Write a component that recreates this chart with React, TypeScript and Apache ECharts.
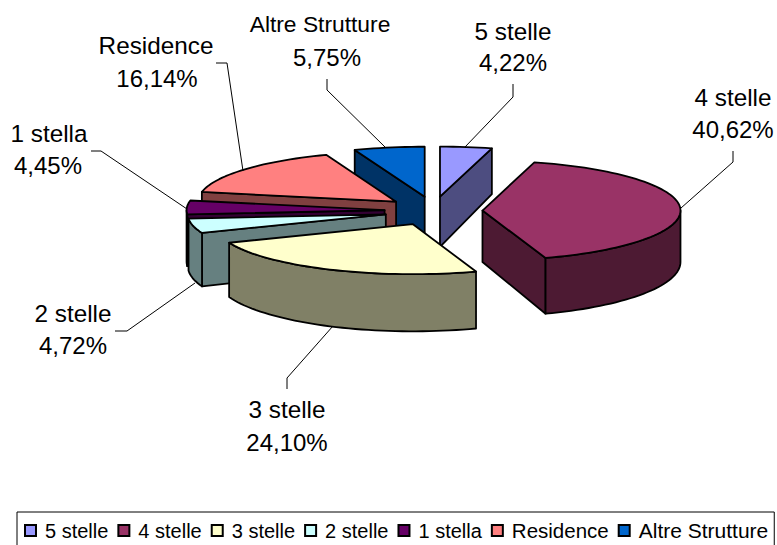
import React, { useEffect, useRef } from "react";
import * as echarts from "echarts";

const categories = ["5 stelle", "4 stelle", "3 stelle", "2 stelle", "1 stella", "Residence", "Altre Strutture"];
const shares = [4.22, 40.62, 24.1, 4.72, 4.45, 16.14, 5.75];
const topColors = ["#9999FF", "#993366", "#FFFFCC", "#CCFFFF", "#660066", "#FF8080", "#0066CC"];
const sideColors = ["#4D4D80", "#4D1A33", "#808066", "#668080", "#330033", "#804040", "#003366"];
// painter's order: back slices first
const paintOrder = [0, 6, 5, 4, 3, 1, 2];

// chart layout, not data
const labelLayout = [
  { nameX: 513, pctX: 513, nameY: 31, pctY: 62, nameSize: 24.3, leader: [[513, 84], [513, 97], [465, 147]] },
  { nameX: 733, pctX: 733, nameY: 97, pctY: 129, nameSize: 24.3, leader: [[733, 151], [733, 162], [681, 208]] },
  { nameX: 287, pctX: 287, nameY: 409, pctY: 442, nameSize: 24.3, leader: [[287, 389], [287, 378], [333, 326]] },
  { nameX: 73, pctX: 73, nameY: 313, pctY: 345, nameSize: 24.3, leader: [[115, 331], [127, 331], [195, 283]] },
  { nameX: 49, pctX: 48, nameY: 133, pctY: 165, nameSize: 24.3, leader: [[91, 151], [101, 151], [187, 209]] },
  { nameX: 156, pctX: 157, nameY: 45, pctY: 78, nameSize: 24.3, leader: [[216, 63], [227, 63], [243, 171]] },
  { nameX: 320, pctX: 327, nameY: 24, pctY: 57, nameSize: 22.8, leader: [[327, 79], [327, 90], [385, 147]] },
];
const legendSizes = [20, 20, 20, 20, 20, 20.5, 21];

const CX = 433.5;
const CY = 211;
const RX = 198;
const RY = 50;
const EX = 49;
const EY = 14.5;
const FONT = "Liberation Sans";

const rad = (d: number) => (d * Math.PI) / 180;
const depth = (y: number) => 46 + 0.09 * (y - 150);
const total = shares.reduce((s, v) => s + v, 0);

function sliceAngles(i: number) {
  let before = 0;
  for (let k = 0; k < i; k++) before += shares[k];
  const a = (before / total) * 360;
  const b = ((before + shares[i]) / total) * 360;
  return { a, b };
}

function renderSlice(i: number) {
  const { a, b } = sliceAngles(i);
  const mid = rad((a + b) / 2);
  const ox = CX + EX * Math.sin(mid);
  const oy = CY - EY * Math.cos(mid);
  const rim = (deg: number): number[] => [ox + RX * Math.sin(rad(deg)), oy - RY * Math.cos(rad(deg))];
  const down = (p: number[]): number[] => [p[0], p[1] + depth(p[1])];

  const arc = (from: number, to: number) => {
    const pts: number[][] = [];
    const n = Math.max(2, Math.ceil((to - from) / 2));
    for (let k = 0; k <= n; k++) pts.push(rim(from + ((to - from) * k) / n));
    return pts;
  };

  const face = (points: number[][], fill: string) => ({
    type: "polygon",
    shape: { points },
    style: { fill, stroke: "#000", lineWidth: 1.8, lineJoin: "round" },
  });

  const apex = [ox, oy];
  const children: any[] = [];
  if (Math.sin(rad(a)) < -1e-6) {
    const r = rim(a);
    children.push(face([apex, r, down(r), down(apex)], sideColors[i]));
  }
  if (Math.sin(rad(b)) > 1e-6) {
    const r = rim(b);
    children.push(face([apex, r, down(r), down(apex)], sideColors[i]));
  }
  const wf = Math.max(a, 90);
  const wt = Math.min(b, 270);
  if (wt > wf) {
    const top = arc(wf, wt);
    children.push(face([...top, ...top.slice().reverse().map(down)], sideColors[i]));
  }
  children.push(face([apex, ...arc(a, b)], topColors[i]));

  const l = labelLayout[i];
  children.push({
    type: "polyline",
    shape: { points: l.leader },
    style: { fill: "none", stroke: "#000", lineWidth: 1 },
  });
  const text = (x: number, y: number, t: string, size: number) => ({
    type: "text",
    style: { x, y, text: t, fill: "#000", fontSize: size, fontFamily: FONT, align: "center", verticalAlign: "middle" },
  });
  children.push(text(l.nameX, l.nameY, categories[i], l.nameSize));
  children.push(text(l.pctX, l.pctY, shares[i].toFixed(2).replace(".", ",") + "%", 24));
  return { type: "group", children };
}

export default function App() {
  const ref = useRef<HTMLDivElement>(null);
  useEffect(() => {
    const chart = echarts.init(ref.current!, undefined, { renderer: "svg" });
    chart.setOption({
      animation: false,
      backgroundColor: "#fff",
      legend: {
        data: categories.map((name, i) => ({
          name,
          textStyle: { fontSize: legendSizes[i], fontFamily: FONT, color: "#000", padding: [0, 0, 0, 4] },
        })),
        left: 17,
        top: 512,
        width: 760,
        orient: "horizontal",
        padding: [8, 6, 8, 7],
        borderColor: "#000",
        borderWidth: 1,
        itemWidth: 11,
        itemHeight: 11,
        itemGap: 9,
        selectedMode: false,
        icon: "rect",
        itemStyle: { borderColor: "#000", borderWidth: 2 },
        textStyle: { fontSize: 20, fontFamily: FONT, color: "#000", padding: [0, 0, 0, 4] },
      },
      series: categories.map((name, i) => ({
        type: "custom",
        name,
        coordinateSystem: "none",
        z: 2 + paintOrder.indexOf(i),
        silent: true,
        itemStyle: { color: topColors[i] },
        data: [[shares[i]]],
        renderItem: () => renderSlice(i),
      })),
    });
    return () => chart.dispose();
  }, []);
  return <div ref={ref} style={{ position: "absolute", left: 0, top: 0, width: 777, height: 545 }} />;
}
